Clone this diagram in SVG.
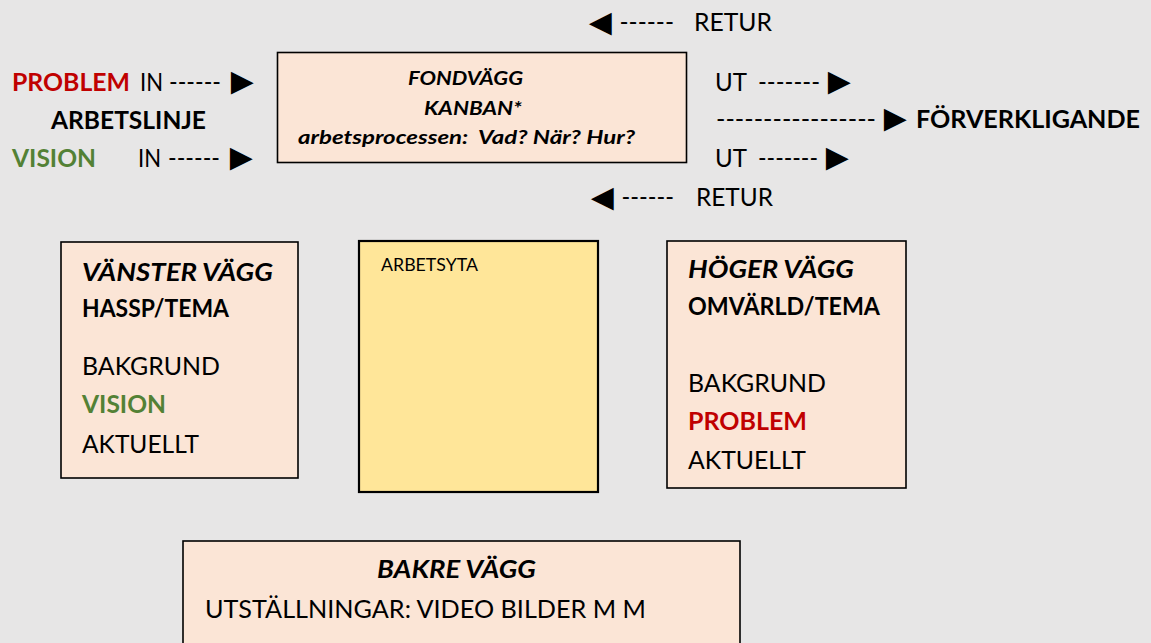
<svg xmlns="http://www.w3.org/2000/svg" width="1151" height="643" viewBox="0 0 1151 643">
<style>
  .t{font-family:Lato,"Open Sans","DejaVu Sans",sans-serif;font-size:25px;fill:#000}
  .b{font-weight:bold}
  .i{font-style:italic}
  .s{font-size:19px}
  .xs{font-size:17px}
  .red{fill:#c00000}
  .grn{fill:#538135}
  .tri{font-family:"Liberation Sans","DejaVu Sans",sans-serif;font-size:38px;fill:#000}
  .box{fill:#fbe5d6;stroke:#000;stroke-width:1.6}
  .ybox{fill:#ffe699;stroke:#000;stroke-width:2.2}
</style>
<rect x="0" y="0" width="1151" height="643" fill="#e7e6e6"/>

<g id="connectors">
  <text id="arrow-problem-in" x="169" y="91"><tspan class="t" textLength="52" lengthAdjust="spacingAndGlyphs">------</tspan><tspan class="tri" x="223.5" y="94">►</tspan></text>
  <text id="arrow-vision-in" x="168" y="167"><tspan class="t" textLength="52" lengthAdjust="spacingAndGlyphs">------</tspan><tspan class="tri" x="222.5" y="170">►</tspan></text>
  <text id="arrow-retur-top" x="581.5" y="34.5"><tspan class="tri">◄</tspan><tspan class="t" x="619.5" y="31" textLength="54.5" lengthAdjust="spacingAndGlyphs">------</tspan></text>
  <text id="arrow-ut-top" x="758" y="91"><tspan class="t" textLength="62" lengthAdjust="spacingAndGlyphs">-------</tspan><tspan class="tri" x="820.5" y="94">►</tspan></text>
  <text id="arrow-forverkligande" x="716" y="128"><tspan class="t" textLength="160" lengthAdjust="spacingAndGlyphs">-----------------</tspan><tspan class="tri" x="876.5" y="131">►</tspan></text>
  <text id="arrow-ut-bottom" x="758" y="167"><tspan class="t" textLength="60" lengthAdjust="spacingAndGlyphs">-------</tspan><tspan class="tri" x="818.5" y="170">►</tspan></text>
  <text id="arrow-retur-bottom" x="583.5" y="209.5"><tspan class="tri">◄</tspan><tspan class="t" x="621.5" y="206" textLength="52.5" lengthAdjust="spacingAndGlyphs">------</tspan></text>
</g>

<g id="node-problem-in">
  <text class="t b red" x="12" y="91" textLength="118" lengthAdjust="spacingAndGlyphs">PROBLEM</text>
  <text class="t" x="140" y="91" textLength="23" lengthAdjust="spacingAndGlyphs">IN</text>
</g>
<g id="node-arbetslinje">
  <text class="t b" x="51" y="129" textLength="155" lengthAdjust="spacingAndGlyphs">ARBETSLINJE</text>
</g>
<g id="node-vision-in">
  <text class="t b grn" x="12" y="167" textLength="84" lengthAdjust="spacingAndGlyphs">VISION</text>
  <text class="t" x="138" y="167" textLength="23" lengthAdjust="spacingAndGlyphs">IN</text>
</g>

<g id="node-fondvagg">
  <rect class="box" x="277.5" y="52.5" width="409" height="110"/>
  <text class="t s b i" x="408" y="85" textLength="115" lengthAdjust="spacingAndGlyphs">FONDVÄGG</text>
  <text class="t s b i" x="424" y="115" textLength="98" lengthAdjust="spacingAndGlyphs">KANBAN*</text>
  <text class="t s b i" x="298" y="144" textLength="337" lengthAdjust="spacingAndGlyphs" xml:space="preserve">arbetsprocessen:  Vad? När? Hur?</text>
</g>

<g id="node-retur-top">
  <text class="t" x="694" y="31" textLength="78" lengthAdjust="spacingAndGlyphs">RETUR</text>
</g>
<g id="node-ut-top">
  <text class="t" x="715" y="91" textLength="32" lengthAdjust="spacingAndGlyphs">UT</text>
</g>
<g id="node-forverkligande">
  <text class="t b" x="916" y="128" textLength="224" lengthAdjust="spacingAndGlyphs">FÖRVERKLIGANDE</text>
</g>
<g id="node-ut-bottom">
  <text class="t" x="715" y="167" textLength="32" lengthAdjust="spacingAndGlyphs">UT</text>
</g>
<g id="node-retur-bottom">
  <text class="t" x="696" y="206" textLength="77" lengthAdjust="spacingAndGlyphs">RETUR</text>
</g>

<g id="node-vanster-vagg">
  <rect class="box" x="61" y="242" width="237" height="236"/>
  <text class="t b i" x="82" y="281" textLength="191" lengthAdjust="spacingAndGlyphs">VÄNSTER VÄGG</text>
  <text class="t b" x="82" y="317" textLength="147" lengthAdjust="spacingAndGlyphs">HASSP/TEMA</text>
  <text class="t" x="82" y="375" textLength="138" lengthAdjust="spacingAndGlyphs">BAKGRUND</text>
  <text class="t b grn" x="82" y="413" textLength="84" lengthAdjust="spacingAndGlyphs">VISION</text>
  <text class="t" x="82" y="453" textLength="117" lengthAdjust="spacingAndGlyphs">AKTUELLT</text>
</g>

<g id="node-arbetsyta">
  <rect class="ybox" x="359" y="241" width="239" height="251"/>
  <text class="t xs" x="381" y="271" textLength="97" lengthAdjust="spacingAndGlyphs">ARBETSYTA</text>
</g>

<g id="node-hoger-vagg">
  <rect class="box" x="667" y="241" width="239" height="247"/>
  <text class="t b i" x="688" y="278" textLength="166" lengthAdjust="spacingAndGlyphs">HÖGER VÄGG</text>
  <text class="t b" x="688" y="315" textLength="192" lengthAdjust="spacingAndGlyphs">OMVÄRLD/TEMA</text>
  <text class="t" x="688" y="392" textLength="138" lengthAdjust="spacingAndGlyphs">BAKGRUND</text>
  <text class="t b red" x="688" y="430" textLength="119" lengthAdjust="spacingAndGlyphs">PROBLEM</text>
  <text class="t" x="688" y="469" textLength="118" lengthAdjust="spacingAndGlyphs">AKTUELLT</text>
</g>

<g id="node-bakre-vagg">
  <rect class="box" x="183" y="541" width="557" height="120"/>
  <text class="t b i" x="377" y="578" textLength="159" lengthAdjust="spacingAndGlyphs">BAKRE VÄGG</text>
  <text class="t" x="205" y="618" textLength="441" lengthAdjust="spacingAndGlyphs">UTSTÄLLNINGAR: VIDEO BILDER M M</text>
</g>
</svg>
